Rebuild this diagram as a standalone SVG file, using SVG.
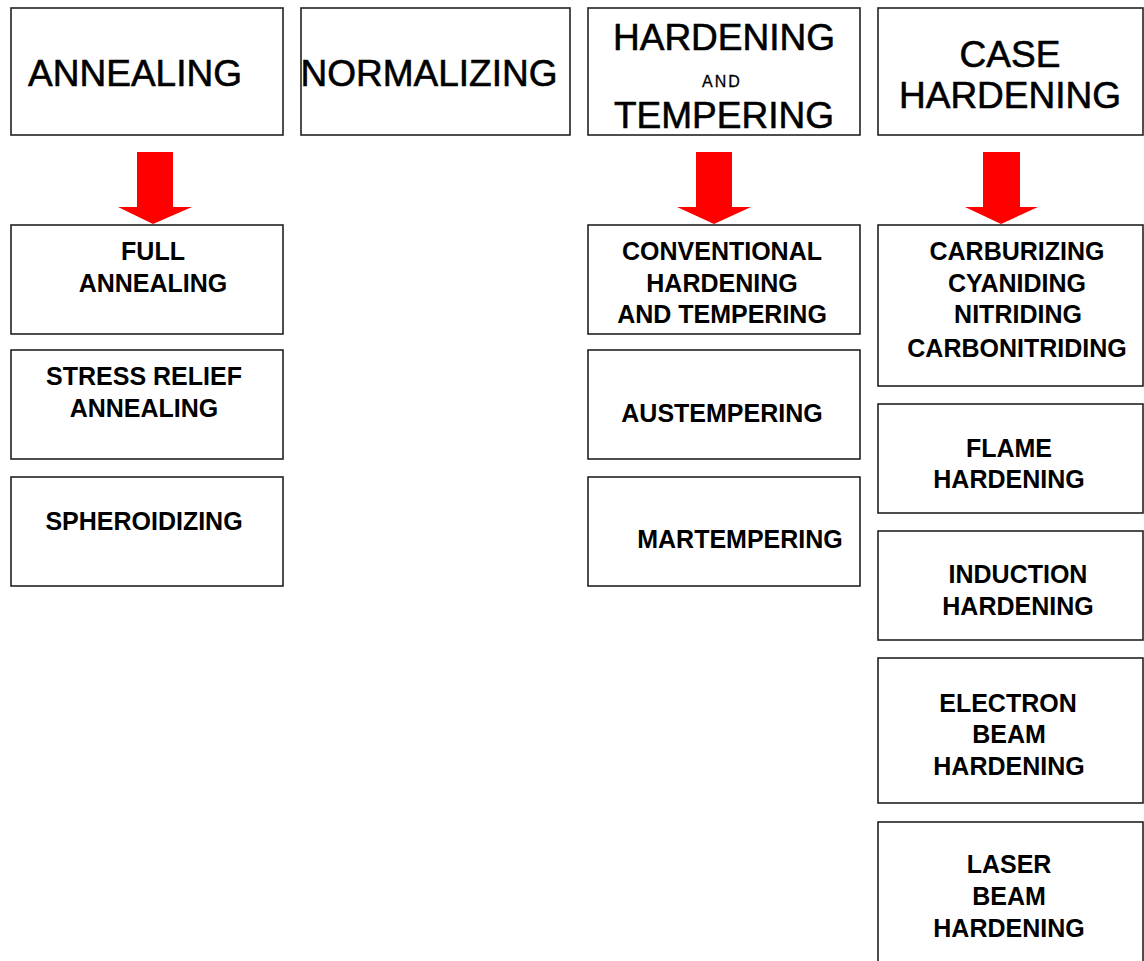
<svg xmlns="http://www.w3.org/2000/svg" width="1144" height="961" viewBox="0 0 1144 961">
<style>
.box{fill:#fff;stroke:#222;stroke-width:1.6}
.h{font-family:"Liberation Sans",Arial,sans-serif;font-size:37px;fill:#000;stroke:#000;stroke-width:0.6;text-anchor:middle}
.s{font-family:"Liberation Sans",Arial,sans-serif;font-size:25px;font-weight:bold;fill:#000;text-anchor:middle}
.arr{fill:#ff0000}
</style>
<rect width="1144" height="961" fill="#fff"/>
<g id="annealing"><rect class="box" x="11" y="8" width="272" height="127"/><text class="h" x="135" y="86">ANNEALING</text></g>
<g id="normalizing"><rect class="box" x="301" y="8" width="269" height="127"/><text class="h" x="429" y="86">NORMALIZING</text></g>
<g id="hardening"><rect class="box" x="588" y="8" width="272" height="127"/><text class="h" x="724" y="50">HARDENING</text><text class="h" x="722" y="87" style="font-size:16px;letter-spacing:2px;stroke-width:0.3">AND</text><text class="h" x="724" y="128">TEMPERING</text></g>
<g id="case"><rect class="box" x="878" y="8" width="265" height="127"/><text class="h" x="1010" y="67">CASE</text><text class="h" x="1010" y="108">HARDENING</text></g>
<g id="connectors">
<path class="arr" d="M137 152H173V207H192L153 224L118 207H137Z"/>
<path class="arr" d="M696 152H732V207H751L714 224L677 207H696Z"/>
<path class="arr" d="M983 152H1020V207H1038L1001 224L965 207H983Z"/>
</g>
<g id="full"><rect class="box" x="11" y="225" width="272" height="109"/><text class="s" x="153" y="260">FULL</text><text class="s" x="153" y="292">ANNEALING</text></g>
<g id="stress"><rect class="box" x="11" y="350" width="272" height="109"/><text class="s" x="144" y="385">STRESS RELIEF</text><text class="s" x="144" y="417">ANNEALING</text></g>
<g id="spheroidizing"><rect class="box" x="11" y="477" width="272" height="109"/><text class="s" x="144" y="530">SPHEROIDIZING</text></g>
<g id="conventional"><rect class="box" x="588" y="225" width="272" height="109"/><text class="s" x="722" y="260">CONVENTIONAL</text><text class="s" x="722" y="292">HARDENING</text><text class="s" x="722" y="323">AND TEMPERING</text></g>
<g id="austempering"><rect class="box" x="588" y="350" width="272" height="109"/><text class="s" x="722" y="422">AUSTEMPERING</text></g>
<g id="martempering"><rect class="box" x="588" y="477" width="272" height="109"/><text class="s" x="740" y="548">MARTEMPERING</text></g>
<g id="carburizing"><rect class="box" x="878" y="225" width="265" height="161"/><text class="s" x="1017" y="260">CARBURIZING</text><text class="s" x="1017" y="292">CYANIDING</text><text class="s" x="1018" y="323">NITRIDING</text><text class="s" x="1017" y="357">CARBONITRIDING</text></g>
<g id="flame"><rect class="box" x="878" y="404" width="265" height="109"/><text class="s" x="1009" y="457">FLAME</text><text class="s" x="1009" y="488">HARDENING</text></g>
<g id="induction"><rect class="box" x="878" y="531" width="265" height="109"/><text class="s" x="1018" y="583">INDUCTION</text><text class="s" x="1018" y="615">HARDENING</text></g>
<g id="electron"><rect class="box" x="878" y="658" width="265" height="145"/><text class="s" x="1008" y="712">ELECTRON</text><text class="s" x="1009" y="743">BEAM</text><text class="s" x="1009" y="775">HARDENING</text></g>
<g id="laser"><rect class="box" x="878" y="822" width="265" height="160"/><text class="s" x="1009" y="873">LASER</text><text class="s" x="1009" y="905">BEAM</text><text class="s" x="1009" y="937">HARDENING</text></g>
</svg>
